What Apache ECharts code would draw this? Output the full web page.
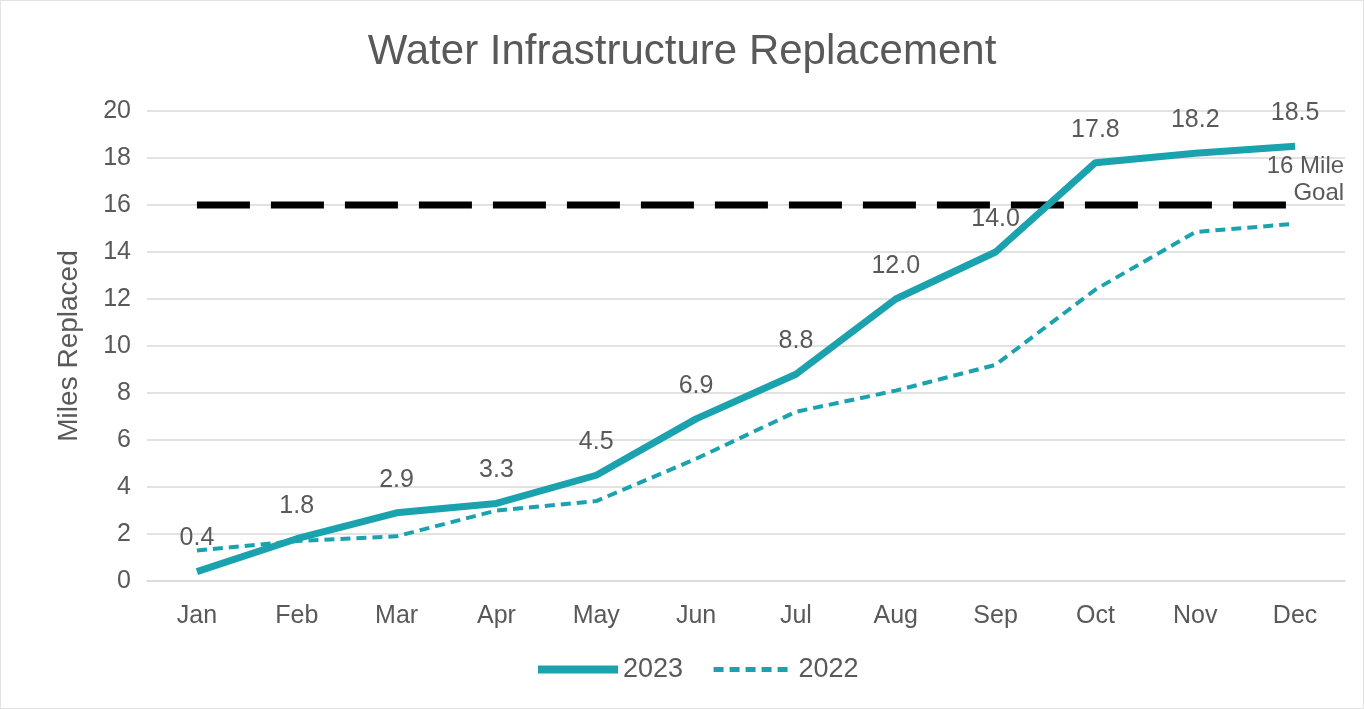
<!DOCTYPE html>
<html><head><meta charset="utf-8">
<script src="https://cdn.jsdelivr.net/npm/echarts@6/dist/echarts.min.js"></script>
<style>html,body{margin:0;padding:0;background:#fff;}#c{width:1364px;height:709px;box-sizing:border-box;border:1px solid #e3e3e3;}</style>
</head><body><div id="c"></div>
<script>
var months = ['Jan','Feb','Mar','Apr','May','Jun','Jul','Aug','Sep','Oct','Nov','Dec'];
var miles2023 = [0.4,1.8,2.9,3.3,4.5,6.9,8.8,12.0,14.0,17.8,18.2,18.5];
var miles2022 = [1.3,1.7,1.9,3.0,3.4,5.2,7.2,8.1,9.2,12.4,14.85,15.2];
var goal = [16,16,16,16,16,16,16,16,16,16,16,16];
var yTicks = {min:0,max:20,interval:2};
var teal = '#1AA3AE';
var grey = '#595959';
var font = '"Liberation Sans", Arial, sans-serif';
var chart = echarts.init(document.getElementById('c'));
chart.setOption({
  animation:false,
  textStyle:{fontFamily:font},
  title:{text:'Water Infrastructure Replacement',left:'center',top:25,textStyle:{fontSize:42,fontWeight:'normal',color:grey,fontFamily:font}},
  grid:{left:146,right:18,top:110,bottom:127},
  legend:{data:[{name:'2023',lineStyle:{width:8},itemStyle:{opacity:0}},{name:'2022',lineStyle:{width:5},itemStyle:{opacity:0}}],bottom:20,left:528,itemWidth:80,itemHeight:14,itemGap:28,textStyle:{fontSize:27,color:grey,fontFamily:font}},
  xAxis:{type:'category',data:months,boundaryGap:true,axisLine:{lineStyle:{color:'#d9d9d9',width:1.5}},axisTick:{show:false},axisLabel:{fontSize:25,color:grey,margin:23,fontFamily:font}},
  yAxis:{type:'value',min:yTicks.min,max:yTicks.max,interval:yTicks.interval,name:'Miles Replaced',nameLocation:'middle',nameGap:64,nameTextStyle:{fontSize:28,color:grey,fontFamily:font},axisLabel:{fontSize:25,color:grey,margin:16,fontFamily:font},splitLine:{lineStyle:{color:'#d9d9d9',width:1.5}},axisLine:{show:false},axisTick:{show:false}},
  series:[
    {name:'2022',type:'line',data:miles2022,symbol:'circle',symbolSize:1,itemStyle:{color:'transparent'},lineStyle:{color:teal,width:4,type:[10,6]},z:2},
    {name:'Goal',type:'line',data:goal,symbol:'circle',symbolSize:1,itemStyle:{color:'transparent'},lineStyle:{color:'#000',width:7,type:[53,21]},z:3,
      label:{show:true,formatter:function(p){return p.dataIndex===11?'16 Mile\nGoal':'';},position:'top',distance:4,offset:[49,6],align:'right',fontSize:24,lineHeight:27,color:grey,fontFamily:font}},
    {name:'2023',type:'line',data:miles2023,symbol:'circle',symbolSize:1,itemStyle:{color:'transparent'},lineStyle:{color:teal,width:7},z:4,
      label:{show:true,position:'top',distance:20,fontSize:25,color:grey,fontFamily:font,formatter:function(p){return p.value.toFixed(1);}}}
  ]
});
</script></body></html>
